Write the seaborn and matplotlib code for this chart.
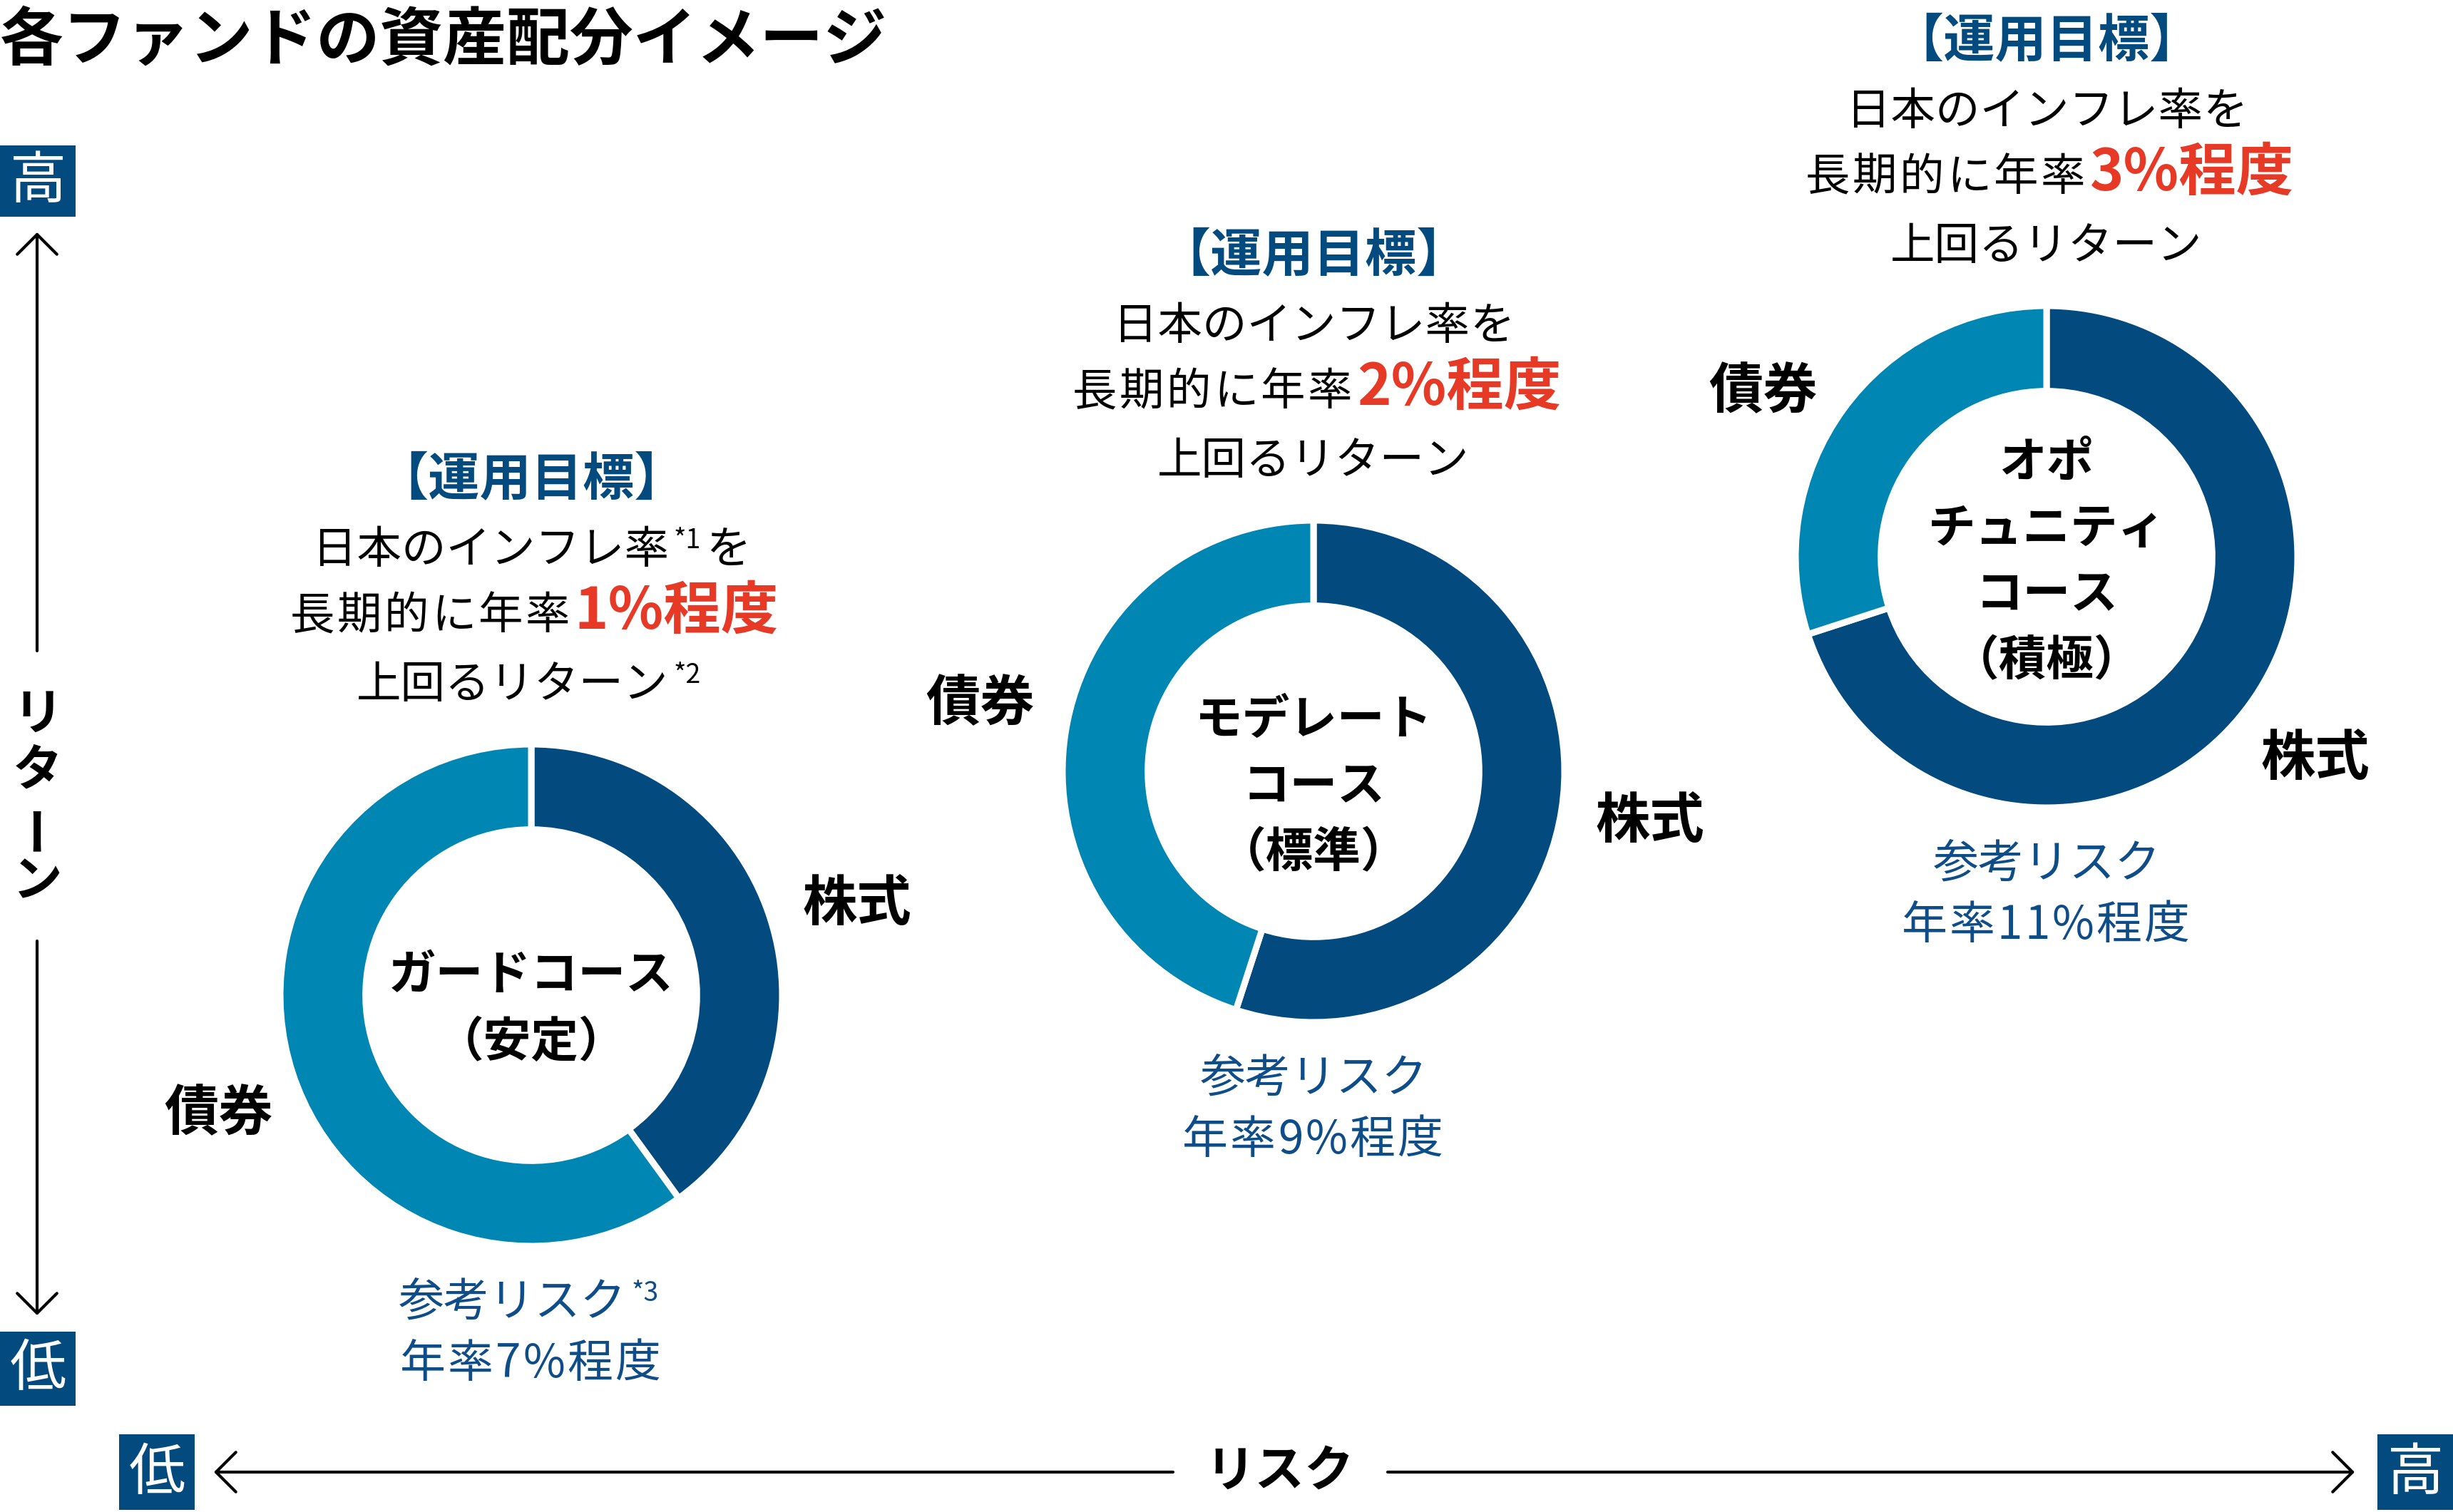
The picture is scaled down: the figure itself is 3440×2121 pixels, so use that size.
import matplotlib.pyplot as plt
import matplotlib.patches as mpatches
import seaborn as sns

# スタイル
sns.set_theme(style="white")
plt.rcParams['font.family'] = ['Noto Sans CJK JP', 'DejaVu Sans']

# データ
courses = ["ガードコース\n（安定）", "モデレート\nコース\n（標準）", "オポ\nチュニティ\nコース\n（積極）"]
asset_labels = ["株式", "債券"]
stock_share = [40, 55, 70]
bond_share = [60, 45, 30]
target_rate = ["1%程度", "2%程度", "3%程度"]
risk_rate = ["年率7%程度", "年率9%程度", "年率11%程度"]
note_inflation = ["*1", "", ""]
note_return = ["*2", "", ""]
note_risk = ["*3", "", ""]

# 色
NAVY = "#034a7e"
TEAL = "#0086b3"
RED = "#e63a26"
RISK_BLUE = "#0e4d88"
palette = sns.color_palette([NAVY, TEAL])

W, H = 3440, 2121
fig = plt.figure(figsize=(W / 100, H / 100), dpi=100)
ax = fig.add_axes([0, 0, 1, 1])
ax.set_xlim(0, W)
ax.set_ylim(H, 0)
ax.axis('off')
renderer = fig.canvas.get_renderer()

_adv = {}


def advance(ch, fs, fw):
    key = (ch, fs, fw)
    if key not in _adv:
        t1 = ax.text(0, 0, "口" + ch + "口", fontsize=fs, fontweight=fw)
        t2 = ax.text(0, 0, "口口", fontsize=fs, fontweight=fw)
        _adv[key] = (t1.get_window_extent(renderer).width
                     - t2.get_window_extent(renderer).width)
        t1.remove()
        t2.remove()
    return _adv[key]


def run(s, fs, fw='normal', col='black', rise=0, track=0, pad=0):
    return dict(s=s, fs=fs, fw=fw, col=col, rise=rise, track=track, pad=pad)


def runs_line(xc, y, runs):
    """1行を複数の書式で中央揃えに描く (y はベースライン)"""
    runs = [r for r in runs if r['s']]
    widths = []
    for r in runs:
        if r['track']:
            w = sum(advance(c, r['fs'], r['fw']) + r['track'] for c in r['s'])
        else:
            t = ax.text(0, 0, r['s'], fontsize=r['fs'], fontweight=r['fw'])
            w = t.get_window_extent(renderer).width
            t.remove()
        widths.append(w + 2 * r['pad'])
    x = xc - sum(widths) / 2
    for r, w in zip(runs, widths):
        yy = y - r['rise']
        if r['track']:
            px = x + r['pad']
            for c in r['s']:
                a = advance(c, r['fs'], r['fw'])
                ax.text(px + a / 2, yy, c, fontsize=r['fs'], fontweight=r['fw'],
                        color=r['col'], ha='center', va='baseline')
                px += a + r['track']
        else:
            ax.text(x + r['pad'], yy, r['s'], fontsize=r['fs'],
                    fontweight=r['fw'], color=r['col'], ha='left',
                    va='baseline')
        x += w


# タイトル
ax.text(0, 84, "各ファンドの資産配分イメージ", fontsize=64, fontweight='bold',
        color='black', ha='left', va='baseline')

# ドーナツ
centers = [(745, 1396), (1842, 1082), (2870, 781)]
label_offsets = [[(457, -128), (-438, 166)],
                 [(472, 70), (-467, -95)],
                 [(377, 283), (-397, -232)]]
center_shift = [14, 16, 2]
R_PX = 352
LIM = 1.05
for i, course in enumerate(courses):
    cx, cy = centers[i]
    h = R_PX * LIM
    dax = fig.add_axes([(cx - h) / W, 1 - (cy + h) / H, 2 * h / W, 2 * h / H])
    wedges, texts = dax.pie(
        [stock_share[i], bond_share[i]], labels=asset_labels, colors=palette,
        startangle=90, counterclock=False, labeldistance=1.36,
        wedgeprops=dict(width=0.34, edgecolor='white', linewidth=6.5),
        textprops=dict(fontsize=55, fontweight='bold', color='black'))
    for t, (dx, dy) in zip(texts, label_offsets[i]):
        t.set_position((dx / R_PX, -dy / R_PX))
        t.set_ha('center')
        t.set_va('center')
    dax.set_xlim(-LIM, LIM)
    dax.set_ylim(-LIM, LIM)
    dax.set_facecolor('none')
    dax.axis('off')

    # 中央のコース名
    lines = course.split("\n")
    n = len(lines)
    for k, line in enumerate(lines):
        yc = cy + center_shift[i] + (k - (n - 1) / 2) * 93
        ax.text(cx, yc + 25, line, fontsize=48, fontweight='bold',
                color='black', ha='center', va='baseline')

    # 運用目標
    runs_line(cx, cy - 702, [run("【運用目標】", 52, 'bold', NAVY)])
    runs_line(cx, cy - 606, [run("日本のインフレ率", 45),
                             run(note_inflation[i], 27, rise=21, pad=7),
                             run("を", 45)])
    runs_line(cx + 6, cy - 514, [run("長期的に年率", 45, track=3.5),
                                 run(target_rate[i], 58, 'bold', RED, pad=3)])
    runs_line(cx, cy - 417, [run("上回るリターン", 45),
                             run(note_return[i], 27, rise=21, pad=7)])

    # 参考リスク
    runs_line(cx, cy + 450, [run("参考リスク", 46, col=RISK_BLUE),
                             run(note_risk[i], 27, col=RISK_BLUE, rise=21,
                                 pad=7)])
    runs_line(cx, cy + 536, [run(risk_rate[i], 46, col=RISK_BLUE, track=3)])


# 軸ラベルのボックス
def box_label(x0, y0, w, h, s):
    ax.add_patch(mpatches.Rectangle((x0, y0), w, h, facecolor=NAVY,
                                    edgecolor='none'))
    ax.text(x0 + w / 2, y0 + h / 2 + 2, s, fontsize=57, color='white',
            ha='center', va='center')


box_label(0, 204, 106, 100, "高")
box_label(0, 1868, 106, 104, "低")
box_label(167, 2012, 106, 106, "低")
box_label(3334, 2012, 106, 106, "高")

arrow_kw = dict(arrowstyle="->,head_length=0.4,head_width=0.4", lw=3,
                color='black', mutation_scale=50, shrinkA=0, shrinkB=0)

# 縦軸（リターン）
ax.annotate("", xy=(52, 326), xytext=(52, 913), arrowprops=arrow_kw)
ax.annotate("", xy=(52, 1845), xytext=(52, 1320), arrowprops=arrow_kw)
for k, ch in enumerate("リターン"):
    ax.text(53, 1003 + k * 78, ch, fontsize=50, fontweight='bold',
            color='black', ha='center', va='center',
            rotation=90 if ch == "ー" else 0, rotation_mode='anchor')

# 横軸（リスク）
ax.annotate("", xy=(300, 2065), xytext=(1645, 2065), arrowprops=arrow_kw)
ax.annotate("", xy=(3302, 2065), xytext=(1946, 2065), arrowprops=arrow_kw)
ax.text(1795, 2065, "リスク", fontsize=50, fontweight='bold', color='black',
        ha='center', va='center')

fig.savefig("out.png", dpi=100)
